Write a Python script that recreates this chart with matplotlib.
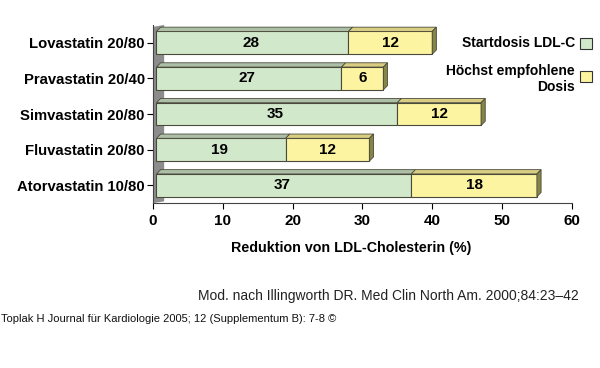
import numpy as np
import matplotlib
matplotlib.use('Agg')
import matplotlib.pyplot as plt
from matplotlib.patches import Polygon, Rectangle

plt.rcParams['font.family'] = ['Liberation Sans', 'DejaVu Sans']

drugs = ['Lovastatin 20/80', 'Pravastatin 20/40', 'Simvastatin 20/80',
         'Fluvastatin 20/80', 'Atorvastatin 10/80']
start_dose = [28, 27, 35, 19, 37]
max_dose = [12, 6, 12, 12, 18]
legend_labels = ['Startdosis LDL-C', 'Höchst empfohlene\nDosis']
xticks = [0, 10, 20, 30, 40, 50, 60]

green = '#d2e8cb'
yellow = '#fdf4a2'
edge = '#4a4a3a'
side = '#85854a'
top_green = '#aebfa8'
top_yellow = '#d8cd80'

fig = plt.figure(figsize=(6, 3.68), dpi=100)
ax = fig.add_axes([0.255, 0.448, 0.698, 0.484])

h = 0.64
dx, dy = 0.6, 0.12   # depth of the fake 3d effect in data units

# grey back wall on the left
ax.add_patch(Polygon([(0, 4.5), (1.6, 4.5 - 0.05), (1.6, -0.5), (0, -0.45)],
                     closed=True, facecolor='#8c8c8c', edgecolor='none', zorder=1))

y = np.arange(len(drugs))
for i in range(len(drugs)):
    s, m = start_dose[i], max_dose[i]
    yb = y[i] + h / 2
    yt = y[i] - h / 2
    # front faces
    ax.add_patch(Rectangle((0.5, yt), s - 0.5, h, facecolor=green, edgecolor=edge, lw=0.8, zorder=3))
    ax.add_patch(Rectangle((s, yt), m, h, facecolor=yellow, edgecolor=edge, lw=0.8, zorder=3))
    # top faces
    ax.add_patch(Polygon([(0.5, yt), (0.5 + dx, yt - dy), (s + dx, yt - dy), (s, yt)],
                         facecolor=top_green, edgecolor=edge, lw=0.6, zorder=3))
    ax.add_patch(Polygon([(s, yt), (s + dx, yt - dy), (s + m + dx, yt - dy), (s + m, yt)],
                         facecolor=top_yellow, edgecolor=edge, lw=0.6, zorder=3))
    # right side
    ax.add_patch(Polygon([(s + m, yt), (s + m + dx, yt - dy), (s + m + dx, yb - dy), (s + m, yb)],
                         facecolor=side, edgecolor=edge, lw=0.6, zorder=3))
    ax.text(s / 2, y[i], str(s), ha='center', va='center', fontsize=11, fontweight='bold', zorder=4)
    ax.text(s + m / 2, y[i], str(m), ha='center', va='center', fontsize=11, fontweight='bold', zorder=4)

ax.set_xlim(0, 60)
ax.set_ylim(4.5, -0.5)
ax.set_yticks(y)
ax.set_yticklabels(drugs, fontsize=10.7, fontweight='bold')
ax.set_xticks(xticks)
ax.set_xticklabels([str(t) for t in xticks], fontsize=11, fontweight='bold')
ax.tick_params(axis='y', length=4, direction='out', pad=2)
ax.tick_params(axis='x', length=4, direction='out', pad=4)
for sp in ['top', 'right']:
    ax.spines[sp].set_visible(False)
ax.spines['left'].set_color('#444444')
ax.spines['bottom'].set_color('#444444')
ax.set_xlabel('Reduktion von LDL-Cholesterin (%)', fontsize=10.3, fontweight='bold')
ax.xaxis.set_label_coords(0.473, -0.21)

# legend drawn by hand on the right
fig.text(0.958, 0.882, legend_labels[0], ha='right', va='center', fontsize=10, fontweight='bold')
fig.add_artist(Rectangle((0.967, 0.866), 0.02, 0.032, transform=fig.transFigure,
                         facecolor=green, edgecolor='#333333', lw=0.8))
fig.text(0.958, 0.785, legend_labels[1], ha='right', va='center', fontsize=10, fontweight='bold',
         linespacing=1.25)
fig.add_artist(Rectangle((0.967, 0.776), 0.02, 0.032, transform=fig.transFigure,
                         facecolor=yellow, edgecolor='#333333', lw=0.8))

fig.text(0.965, 0.197, 'Mod. nach Illingworth DR. Med Clin North Am. 2000;84:23–42',
         ha='right', va='center', fontsize=10, color='#222222')
fig.text(0.002, 0.133, 'Toplak H Journal für Kardiologie 2005; 12 (Supplementum B): 7-8 ©',
         ha='left', va='center', fontsize=8, color='#111111')

fig.savefig('out.png', dpi=100, facecolor='white')
